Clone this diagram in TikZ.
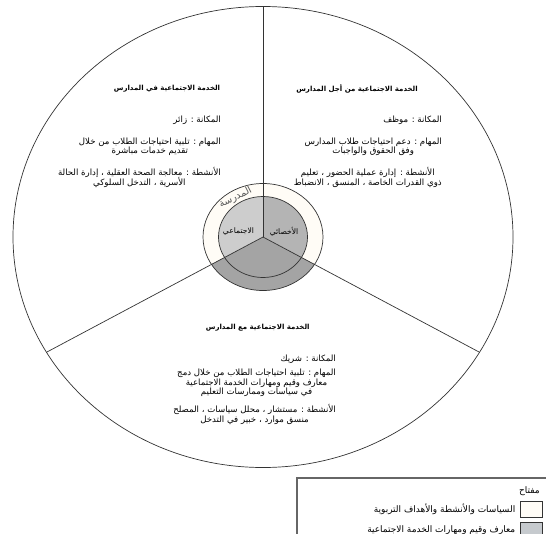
\documentclass[tikz,border=0pt]{standalone}
\usepackage{fontspec}
\usetikzlibrary{positioning}
\newfontfamily\arabicfont[Script=Arabic]{DejaVu Sans}
\TeXXeTstate=1
\setlength{\lineskiplimit}{-5pt}
\newcommand{\ar}[1]{\beginR #1\endR}
\definecolor{ringfill}{HTML}{FFFCF6}
\definecolor{lowgray}{HTML}{A4A4A4}
\definecolor{leftgray}{HTML}{CDCDCD}
\definecolor{rightgray}{HTML}{B4B4B4}
\definecolor{keygray}{HTML}{C6CACE}

\begin{document}
\begin{tikzpicture}[x=1pt,y=1pt,
    divider/.style={draw=black!80,line width=0.7pt},
    heading/.style={inner sep=0pt,font=\arabicfont\bfseries\fontsize{7}{9}\selectfont},
    item/.style={anchor=north east,inner sep=0pt,align=center,font=\arabicfont\fontsize{8.6}{9.6}\selectfont},
    inner/.style={inner sep=0pt,font=\arabicfont\fontsize{7.6}{9}\selectfont},
    legendtext/.style={inner sep=0pt,font=\arabicfont\fontsize{9}{10}\selectfont},
    keybox/.style={draw=black!80,line width=0.6pt,minimum width=22pt,minimum height=16pt,inner sep=0pt}]
    \useasboundingbox (0,0) rectangle (546,-533);
    \clip (0,0) rectangle (546,-533);
    % centre and the ends of the three dividers
    \coordinate (c) at (263,-237);
    \coordinate (top) at (263,-6.5);
    \coordinate (bl) at (46.5,-352.25);
    \coordinate (br) at (479.5,-352.25);
    % school ring, lower third darker
    \fill[ringfill] (c) ellipse [x radius=60,y radius=53.5];
    \begin{scope}
      \clip (c) ellipse [x radius=60,y radius=53.5];
      \fill[lowgray] (c) -- (bl) -- (0,-533) -- (546,-533) -- (br) -- cycle;
    \end{scope}
    % social worker circle
    \begin{scope}
      \clip (c) ellipse [x radius=44.5,y radius=40.5];
      \fill[leftgray] (c) -- (top) -- (0,0) -- (bl) -- cycle;
      \fill[rightgray] (c) -- (top) -- (546,0) -- (br) -- cycle;
    \end{scope}
    \draw[divider] (c) ellipse [x radius=60,y radius=53.5];
    \draw[divider] (c) ellipse [x radius=44.5,y radius=40.5];
    \draw[divider] (c) ellipse [x radius=250,y radius=230.5];
    \foreach \p in {top,bl,br}
      \draw[divider] (c) -- (\p);
    \node[inner sep=0pt,rotate=27,text=black!65,font=\arabicfont\fontsize{10}{11}\selectfont] (school) at (235.5,-197.5) {\ar{المدرسة}};
    \node[inner] (ijtimai) at (238.5,-231.5) {\ar{الاجتماعي}};
    \node[inner] (akhissai) at (284,-231.5) {\ar{الأخصائي}};
    % for schools
    \node[heading] (forhead) at (357,-88.8) {\ar{الخدمة الاجتماعية من أجل المدارس}};
    \node[item] (forstatus) at (442,-116) {\ar{المكانة : موظف}};
    \node[item] (fortasks) at (442,-137.5) {\ar{المهام : دعم احتياجات طلاب المدارس}\\\ar{وفق الحقوق والواجبات}};
    \node[item] (foracts) at (442,-167.5) {\ar{الأنشطة : إدارة عملية الحضور ، تعليم}\\\ar{ذوي القدرات الخاصة ، المنسق ، الانضباط}};
    % in schools
    \node[heading] (inhead) at (167,-88.8) {\ar{الخدمة الاجتماعية في المدارس}};
    \node[item] (instatus) at (221,-116) {\ar{المكانة : زائر}};
    \node[item] (intasks) at (221,-137.5) {\ar{المهام : تلبية احتياجات الطلاب من خلال}\\\ar{تقديم خدمات مباشرة}};
    \node[item] (inacts) at (221,-167.5) {\ar{الأنشطة : معالجة الصحة العقلية ، إدارة الحالة}\\\ar{الأسرية ، التدخل السلوكي}};
    % with schools
    \node[heading] (withhead) at (257.7,-327.3) {\ar{الخدمة الاجتماعية مع المدارس}};
    \node[item] (withstatus) at (336,-354.5) {\ar{المكانة : شريك}};
    \node[item] (withtasks) at (336,-369) {\ar{المهام : تلبية احتياجات الطلاب من خلال دمج}\\\ar{معارف وقيم ومهارات الخدمة الاجتماعية}\\\ar{في سياسات وممارسات التعليم}};
    \node[item] (withacts) at (336,-404.5) {\ar{الأنشطة : مستشار ، محلل سياسات ، المصلح}\\\ar{منسق موارد ، خبير في التدخل}};
    % key
    \draw[draw=black!60,line width=1.5pt] (297,-478) rectangle (560,-545);
    \node[legendtext,anchor=east] (keytitle) at (540,-491) {\ar{مفتاح}};
    \node[keybox,fill=ringfill] (keyschool) at (531.75,-509) {};
    \node[legendtext,left=5pt of keyschool] (keyschooltext) {\ar{السياسات والأنشطة والأهداف التربوية}};
    \node[keybox,fill=keygray] (keysw) at (531.75,-530) {};
    \node[legendtext,left=5pt of keysw] (keyswtext) {\ar{معارف وقيم ومهارات الخدمة الاجتماعية}};
\end{tikzpicture}
\end{document}
